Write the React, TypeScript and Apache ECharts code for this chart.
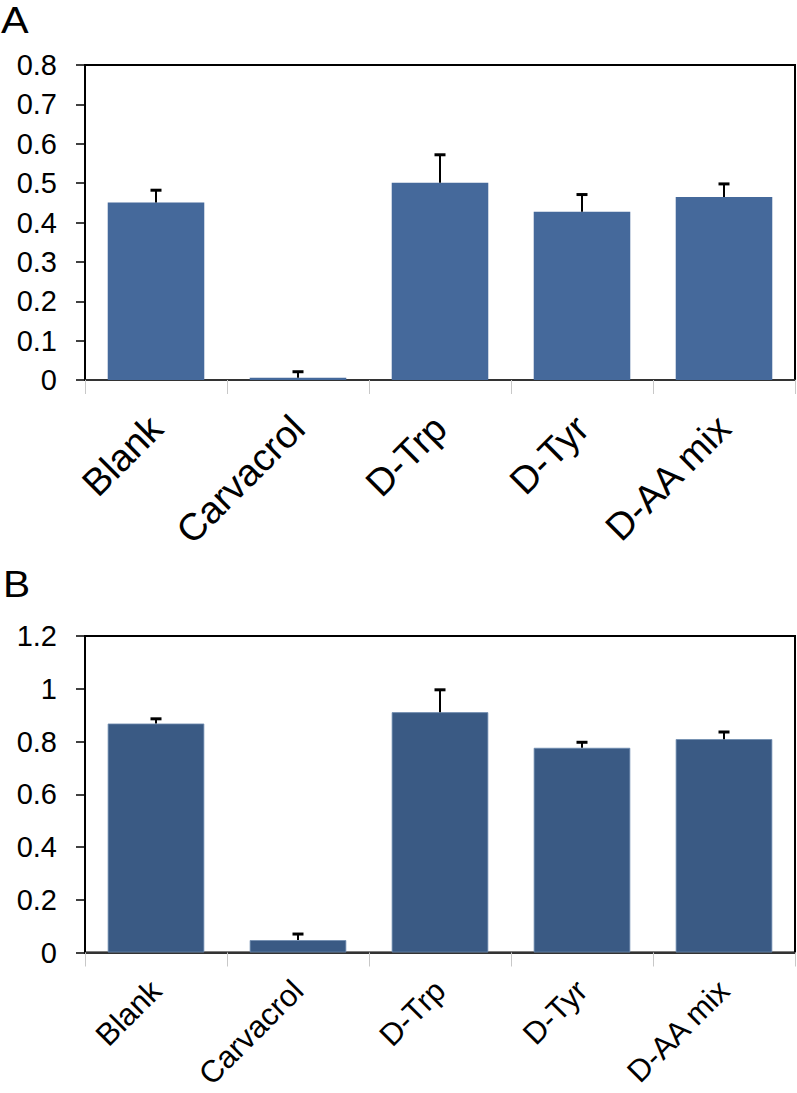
import React, { useEffect, useRef } from "react";
import * as echarts from "echarts";

const categories = ["Blank", "Carvacrol", "D-Trp", "D-Tyr", "D-AA mix"];
const valuesA = [0.451, 0.006, 0.501, 0.427, 0.465];
const errorsA = [0.031, 0.015, 0.071, 0.044, 0.033];
const valuesB = [0.868, 0.047, 0.911, 0.776, 0.809];
const errorsB = [0.018, 0.023, 0.085, 0.021, 0.027];
const ticksA = { min: 0, max: 0.8, interval: 0.1 };
const ticksB = { min: 0, max: 1.2, interval: 0.2 };
const panelLabels = ["A", "B"];

const FONT = "'Liberation Sans', Arial, sans-serif";

function errorSeries(values: number[], errors: number[], idx: number) {
  return {
    type: "custom",
    xAxisIndex: idx,
    yAxisIndex: idx,
    z: 10,
    silent: true,
    data: values.map((v, i) => [i, v, errors[i]]),
    encode: { x: 0, y: 1 },
    renderItem: (params: any, api: any) => {
      const x = api.value(0);
      const v = api.value(1);
      const e = api.value(2);
      const base = api.coord([x, v]);
      const top = api.coord([x, v + e]);
      const cap = 5.5;
      return {
        type: "group",
        children: [
          {
            type: "line",
            shape: { x1: base[0], y1: base[1], x2: top[0], y2: top[1] },
            style: { stroke: "#000", lineWidth: 2 },
          },
          {
            type: "line",
            shape: { x1: top[0] - cap, y1: top[1], x2: top[0] + cap, y2: top[1] },
            style: { stroke: "#000", lineWidth: 3 },
          },
        ],
      };
    },
  };
}

function xAxis(idx: number, fontSize: number, margin: number) {
  return {
    type: "category",
    gridIndex: idx,
    data: categories,
    boundaryGap: true,
    axisLine: { show: true, lineStyle: { color: "#333", width: 2 } },
    axisTick: { show: true, length: 14, interval: 0, lineStyle: { color: "#c8c8c8", width: 1 } },
    axisLabel: {
      rotate: 45,
      interval: 0,
      margin,
      fontSize,
      color: "#000",
      fontFamily: FONT,
    },
    splitLine: { show: false },
  };
}

function yAxis(idx: number, t: { min: number; max: number; interval: number }) {
  return {
    type: "value",
    gridIndex: idx,
    min: t.min,
    max: t.max,
    interval: t.interval,
    axisLine: { show: true, lineStyle: { color: "#000", width: 2 } },
    axisTick: { show: true, length: 9, lineStyle: { color: "#000", width: 1.5 } },
    axisLabel: {
      margin: 28,
      fontSize: 29,
      color: "#000",
      fontFamily: FONT,
      formatter: (v: number) => String(+v.toFixed(1)),
    },
    splitLine: { show: false },
  };
}

export default function App() {
  const ref = useRef<HTMLDivElement>(null);
  useEffect(() => {
    if (!ref.current) return;
    const chart = echarts.init(ref.current, undefined, { renderer: "svg" });
    chart.setOption({
      animation: false,
      backgroundColor: "#fff",
      grid: [
        { left: 85, top: 65, width: 710, height: 315, show: true, borderColor: "#000", borderWidth: 2, backgroundColor: "transparent", containLabel: false, outerBoundsMode: "none" },
        { left: 85, top: 636, width: 710, height: 316.5, show: true, borderColor: "#000", borderWidth: 2, backgroundColor: "transparent", containLabel: false, outerBoundsMode: "none" },
      ],
      xAxis: [xAxis(0, 38, 42), xAxis(1, 31, 33)],
      yAxis: [yAxis(0, ticksA), yAxis(1, ticksB)],
      graphic: [
        { type: "text", x: 1, y: 1, scaleX: 1.12, style: { text: panelLabels[0], fontSize: 37, fill: "#000", fontFamily: FONT, verticalAlign: "top" } },
        { type: "text", x: 3, y: 566, scaleX: 1.1, style: { text: panelLabels[1], fontSize: 37, fill: "#000", fontFamily: FONT, verticalAlign: "top" } },
      ],
      series: [
        {
          type: "bar",
          xAxisIndex: 0,
          yAxisIndex: 0,
          data: valuesA,
          barWidth: "68%",
          itemStyle: { color: "#45699b" },
        },
        errorSeries(valuesA, errorsA, 0),
        {
          type: "bar",
          xAxisIndex: 1,
          yAxisIndex: 1,
          data: valuesB,
          barWidth: "68%",
          itemStyle: { color: "#3a5a84", borderColor: "#6f8bb0", borderWidth: 0.8 },
        },
        errorSeries(valuesB, errorsB, 1),
      ],
    });
    return () => chart.dispose();
  }, []);
  return (
    <div
      ref={ref}
      style={{ position: "absolute", left: 0, top: 0, width: 797, height: 1093, background: "#fff" }}
    />
  );
}
